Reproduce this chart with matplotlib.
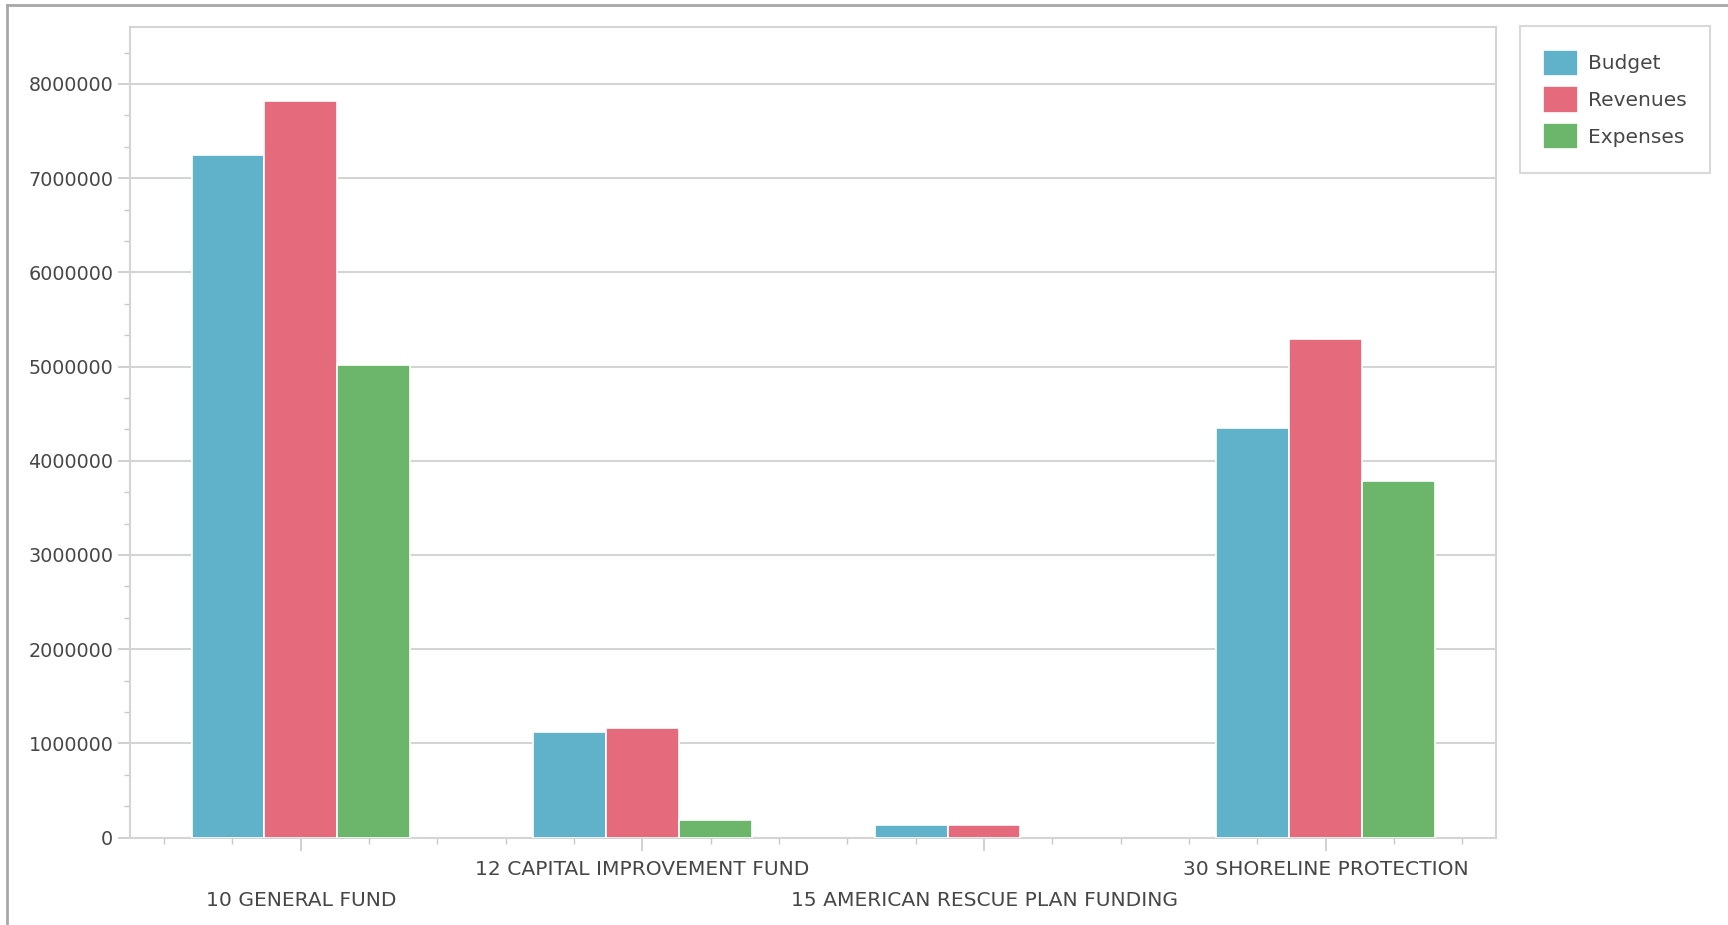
import matplotlib
matplotlib.use("Agg")
import matplotlib.pyplot as plt
import numpy as np
from matplotlib.ticker import MultipleLocator, FixedLocator, FormatStrFormatter
from matplotlib.lines import Line2D

# fund categories and series
funds = ["10 GENERAL FUND", "12 CAPITAL IMPROVEMENT FUND",
         "15 AMERICAN RESCUE PLAN FUNDING", "30 SHORELINE PROTECTION"]
budget = [7245000, 1125000, 130000, 4345000]
revenues = [7815000, 1168000, 130000, 5290000]
expenses = [5020000, 190000, 0, 3785000]

series = [("Budget", budget, "#60b2cb"),
          ("Revenues", revenues, "#e46a7c"),
          ("Expenses", expenses, "#6cb66c")]

plt.rcParams["font.family"] = "DejaVu Sans"
txt_color = "#474747"
line_grey = "#d4d4d4"

fig = plt.figure(figsize=(17.28, 9.25), dpi=100)
ax = fig.add_axes([0.0752, 0.0945, 0.7908, 0.8758])

x = np.arange(len(funds))
w = 0.213
for i, (name, vals, col) in enumerate(series):
    bars = ax.bar(x + (i - 1) * w, vals, width=w, color=col, edgecolor="white",
                  linewidth=1.2, label=name, zorder=3)
    # empty bars leave no mark
    for b in bars:
        if b.get_height() == 0:
            b.set_visible(False)

ax.set_xlim(-0.5, 3.5)
ax.set_ylim(0, 8600000)

ax.yaxis.set_major_locator(MultipleLocator(1000000))
ax.yaxis.set_minor_locator(MultipleLocator(1000000 / 3))
ax.yaxis.set_major_formatter(FormatStrFormatter("%d"))
ax.xaxis.set_major_locator(FixedLocator(x))
ax.xaxis.set_minor_locator(MultipleLocator(0.2))
ax.set_xticklabels([])

ax.grid(axis="y", color=line_grey, linewidth=1.5, zorder=0)
for sp in ax.spines.values():
    sp.set_color(line_grey)
    sp.set_linewidth(1.5)

ax.tick_params(axis="y", which="major", length=9, width=1.2, color="#c8c8c8",
               labelsize=13.8, labelcolor=txt_color, pad=3)
ax.tick_params(axis="y", which="minor", length=4, width=1, color="#c8c8c8")
ax.tick_params(axis="x", which="major", length=9, width=1.2, color="#c8c8c8")
ax.tick_params(axis="x", which="minor", length=4, width=1, color="#c8c8c8")

# staggered category labels
for i, name in enumerate(funds):
    off = -23 if i % 2 == 1 else -45
    ax.annotate(name, xy=(i, 0), xycoords=ax.get_xaxis_transform(),
                xytext=(0, off), textcoords="offset points",
                ha="center", va="center", fontsize=14.6, color=txt_color)

leg = ax.legend(loc="upper left", bbox_to_anchor=(0.8795, 0.9714),
                bbox_transform=fig.transFigure, fontsize=14.5, frameon=True,
                fancybox=False, borderpad=1.15, labelspacing=0.5,
                handlelength=1.75, handleheight=1.65, handletextpad=0.5,
                borderaxespad=0)
leg.get_frame().set_edgecolor("#d0d0d0")
leg.get_frame().set_linewidth(1.5)
for t in leg.get_texts():
    t.set_color(txt_color)

# outer border of the chart control
fig.add_artist(Line2D([7 / 1728, 7 / 1728], [0, 1 - 5 / 925],
                      transform=fig.transFigure, color="#a8a8a8", linewidth=2))
fig.add_artist(Line2D([7 / 1728, 1], [1 - 5 / 925, 1 - 5 / 925],
                      transform=fig.transFigure, color="#a8a8a8", linewidth=2))

fig.savefig("out.png", dpi=100)
